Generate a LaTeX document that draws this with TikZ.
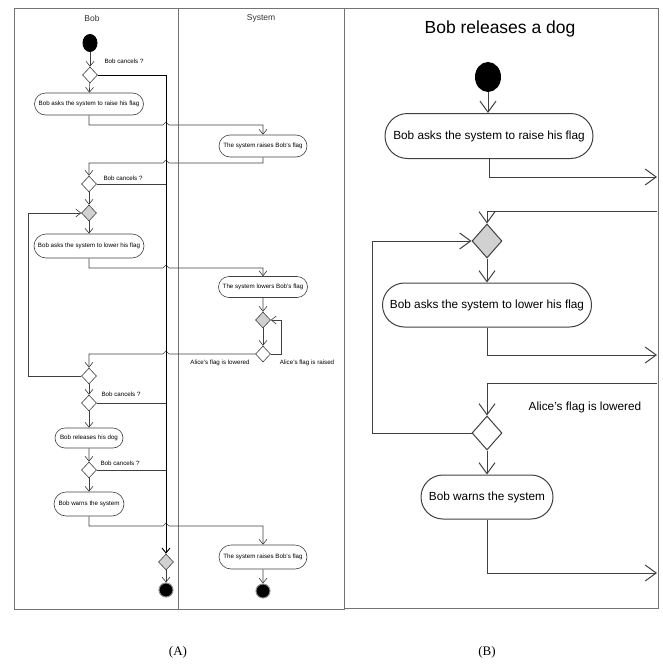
\documentclass[tikz,border=0pt]{standalone}
\usepackage{fontspec}
\setmainfont{Liberation Sans}
\newfontfamily\capfont{Liberation Serif}
\usetikzlibrary{arrows.meta,shapes.geometric,shapes.misc}

\begin{document}
\begin{tikzpicture}[x=1pt,y=-1pt,
  frame/.style={draw=black!55, line width=0.9pt},
  lineA/.style={draw=black!75, line width=0.6pt},
  flowA/.style={lineA, -{Straight Barb[length=5pt,width=8pt]}},
  cancelA/.style={draw=black, line width=0.9pt, -{Straight Barb[length=5pt,width=8pt]}},
  actA/.style={rounded rectangle, draw=black!75, line width=0.6pt, inner sep=0pt,
    font=\fontsize{6.2}{7}\selectfont},
  decA/.style={diamond, draw=black!75, line width=0.6pt, inner sep=0pt,
    minimum width=15pt, minimum height=16pt, fill=white},
  mergeA/.style={decA, fill=black!18},
  lblA/.style={font=\fontsize{6.2}{7}\selectfont, inner sep=0pt},
  laneA/.style={font=\fontsize{8.5}{10}\selectfont, text=black!80, inner sep=0pt},
  endA/.style={circle, fill=black, draw=black!45, line width=1pt, minimum size=14pt, inner sep=0pt},
  lineB/.style={draw=black!75, line width=1pt},
  flowB/.style={lineB, -{Straight Barb[length=11pt,width=16pt]}},
  actB/.style={rounded rectangle, draw=black!75, line width=1pt, inner sep=0pt,
    font=\fontsize{11.8}{13}\selectfont},
  decB/.style={diamond, draw=black!75, line width=1pt, inner sep=0pt,
    minimum width=30pt, minimum height=34pt, fill=white},
  mergeB/.style={decB, fill=black!18},
  caption/.style={font=\capfont\fontsize{13}{15}\selectfont, inner sep=0pt}
]
\useasboundingbox (0,0) rectangle (662,664);

% ---------- (A) swimlanes ----------
\draw[frame] (14,8) rectangle (344,609);
\draw[frame] (178,8) -- (178,609);
\node[laneA] (laneBob) at (92,18) {Bob};
\node[laneA] (laneSys) at (261,18) {System};

% column of the cancel path
\coordinate (cx) at (166,0);

\node[ellipse, fill=black, minimum width=15pt, minimum height=18pt, inner sep=0pt] (startA) at (90,43) {};
\node[decA] (dA1) at (90,75) {};
\node[lblA] (cA1) at (124,61) {Bob cancels ?};
\node[actA, minimum width=109pt, minimum height=22pt] (a1) at (89,104) {Bob asks the system to raise his flag};
\node[actA, minimum width=88pt, minimum height=22pt] (s1) at (263,146) {The system raises Bob's flag};
\node[decA] (dA2) at (89,184) {};
\node[lblA] (cA2) at (123,178) {Bob cancels ?};
\node[mergeA] (gA1) at (89,213) {};
\node[actA, minimum width=110pt, minimum height=24pt] (a2) at (89,246) {Bob asks the system to lower his flag};
\node[actA, minimum width=89pt, minimum height=21pt] (s2) at (263,287) {The system lowers Bob's flag};
\node[mergeA] (gA2) at (263,320) {};
\node[decA] (dA3) at (263,354) {};
\node[lblA] (lowA) at (220,363) {Alice's flag is lowered};
\node[lblA] (raiA) at (307,363) {Alice's flag is raised};
\node[decA] (dA4) at (89,376) {};
\node[decA] (dA5) at (89,403) {};
\node[lblA] (cA3) at (121,394) {Bob cancels ?};
\node[actA, minimum width=68pt, minimum height=20pt] (a3) at (89,438) {Bob releases his dog};
\node[decA] (dA6) at (89,470) {};
\node[lblA] (cA4) at (120,463) {Bob cancels ?};
\node[actA, minimum width=70pt, minimum height=24pt] (a4) at (89,504) {Bob warns the system};
\node[actA, minimum width=88pt, minimum height=24pt] (s3) at (263,557) {The system raises Bob's flag};
\node[endA] (endA1) at (263,591) {};
\node[mergeA] (gA3) at (166,562) {};
\node[endA] (endA2) at (166,590) {};

\draw[flowA] (startA) -- (dA1);
\draw[flowA] (dA1) -- (a1);
\draw[flowA] (a1.south) -- (89,125) -- (163,125) -- (166,122) -- (169,125) -- (263,125) -- (s1.north);
\draw[flowA] (s1.south) -- (263,163) -- (169,163) -- (166,160) -- (163,163) -- (89,163) -- (dA2.north);
\draw[flowA] (dA2) -- (gA1);
\draw[flowA] (gA1) -- (a2);
\draw[flowA] (a2.south) -- (89,268) -- (163,268) -- (166,265) -- (169,268) -- (263,268) -- (s2.north);
\draw[flowA] (s2) -- (gA2);
\draw[flowA] (gA2) -- (dA3);
\draw[flowA] (dA3.east) -- (281,354) -- (281,320) -- (gA2.east);
\draw[flowA] (dA3.west) -- (169,354) -- (166,351) -- (163,354) -- (89,354) -- (dA4.north);
\draw[flowA] (dA4.west) -- (28,376) -- (28,213) -- (gA1.west);
\draw[flowA] (dA4) -- (dA5);
\draw[flowA] (dA5) -- (a3);
\draw[flowA] (a3) -- (dA6);
\draw[flowA] (dA6) -- (a4);
\draw[flowA] (a4.south) -- (89,526) -- (163,526) -- (166,523) -- (169,526) -- (263,526) -- (s3.north);
\draw[flowA] (s3) -- (endA1);
% cancel path
\draw[cancelA] (dA1.east) -- (dA1.east -| cx) -- (gA3.north);
\draw[lineA] (dA2.east) -- (dA2.east -| cx);
\draw[lineA] (dA5.east) -- (dA5.east -| cx);
\draw[lineA] (dA6.east) -- (dA6.east -| cx);
\draw[flowA] (gA3) -- (endA2);

% ---------- (B) ----------
\draw[frame] (344,8) rectangle (658,608);
\node[font=\fontsize{17.5}{20}\selectfont, inner sep=0pt] (titleB) at (500,29) {Bob releases a dog};

\coordinate (r1) at (657,177);
\coordinate (r2) at (657,211);
\coordinate (r3) at (657,355);
\coordinate (r4) at (657,383);
\coordinate (r5) at (657,573);

\node[ellipse, fill=black, minimum width=26pt, minimum height=30pt, inner sep=0pt] (startB) at (488,77) {};
\node[actB, minimum width=208pt, minimum height=45pt] (b1) at (489,136) {Bob asks the system to raise his flag};
\node[mergeB] (gB) at (487,241) {};
\node[actB, minimum width=209pt, minimum height=44pt] (b2) at (487,305) {Bob asks the system to lower his flag};
\node[decB] (dB) at (487,433) {};
\node[font=\fontsize{11.8}{13}\selectfont, inner sep=0pt] (lowB) at (585,407) {Alice's flag is lowered};
\node[actB, minimum width=132pt, minimum height=44pt] (b3) at (487,497) {Bob warns the system};

\draw[flowB] (startB) -- (startB |- b1.north);
\draw[flowB] (b1.south) |- (r1);
\draw[flowB] (r2) -| (gB.north);
\draw[flowB] (gB) -- (b2);
\draw[flowB] (b2.south) |- (r3);
\draw[flowB] (r4) -| (dB.north);
\draw[flowB] (dB.west) -- (372,433) -- (372,241) -- (gB.west);
\draw[flowB] (dB) -- (b3);
\draw[flowB] (b3.south) |- (r5);

% ---------- captions ----------
\node[caption] (capA) at (178,652) {(A)};
\node[caption] (capB) at (487,652) {(B)};
\end{tikzpicture}
\end{document}
